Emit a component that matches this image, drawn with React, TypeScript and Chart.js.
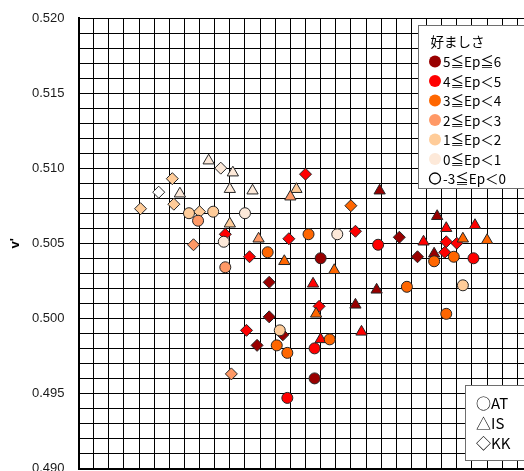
import React, { useEffect, useRef } from 'react';
import { Chart, registerables } from 'chart.js';

Chart.register(...registerables);

// Axis ranges / ticks
const U_MIN = 0.18;
const U_MAX = 0.21;
const V_MIN = 0.49;
const V_MAX = 0.52;
const GRID_STEP = 0.001;
const Y_LABEL_EVERY = 5; // label every 0.005
const Y_TITLE = "v'";

// Preference (Ep) classes, colours and labels
const EP_CLASSES = [5, 4, 3, 2, 1, 0, -1];
const EP_COLORS = ['#990000', '#ff0000', '#ff6600', '#ff9966', '#ffcc99', '#fde9d9', '#ffffff'];
const EP_LABELS = ['5≦Ep≦6', '4≦Ep＜5', '3≦Ep＜4', '2≦Ep＜3', '1≦Ep＜2', '0≦Ep＜1', '-3≦Ep＜0'];
const LEGEND_TITLE = '好ましさ';

// Subjects
const SUBJECTS = ['AT', 'IS', 'KK'];
const SUBJECT_SYMBOLS = ['○', '△', '◇'];
const SUBJECT_STYLES = ['circle', 'triangle', 'rectRot'];

// AT (circles)
const AT_U = [0.1873, 0.1889, 0.1910, 0.1879, 0.1896, 0.1897, 0.1925, 0.1952, 0.1971, 0.1960, 0.1998, 0.2035,
  0.2048, 0.2061, 0.2017, 0.2054, 0.2043, 0.1933, 0.1931, 0.1938, 0.1956, 0.1966, 0.1956, 0.1938];
const AT_V = [0.5070, 0.5071, 0.5070, 0.5065, 0.5051, 0.5034, 0.5044, 0.5056, 0.5056, 0.5040, 0.5049, 0.5038,
  0.5041, 0.5040, 0.5021, 0.5022, 0.5003, 0.4992, 0.4982, 0.4977, 0.4980, 0.4986, 0.4960, 0.4947];
const AT_EP = [1, 1, 0, 2, 0, 2, 3, 3, 0, 5, 4, 3, 3, 4, 3, 1, 3, 1, 3, 3, 4, 3, 5, 4];

// IS (triangles)
const IS_U = [0.1886, 0.1902, 0.1900, 0.1915, 0.1867, 0.1900, 0.1919, 0.1944, 0.1940, 0.1999, 0.2037, 0.2062,
  0.2043, 0.2028, 0.2054, 0.2070, 0.2035, 0.1936, 0.1969, 0.1955, 0.1983, 0.1957, 0.1997, 0.1987, 0.1960];
const IS_V = [0.5105, 0.5097, 0.5086, 0.5085, 0.5083, 0.5063, 0.5053, 0.5086, 0.5081, 0.5085, 0.5068, 0.5062,
  0.5060, 0.5051, 0.5053, 0.5052, 0.5043, 0.5038, 0.5032, 0.5023, 0.5009, 0.5003, 0.5019, 0.4991, 0.4986];
const IS_EP = [0, 0, 0, 0, 0, 1, 2, 1, 2, 5, 5, 4, 4, 4, 3, 3, 5, 3, 3, 4, 5, 3, 5, 4, 4];

// KK (diamonds)
const KK_U = [0.1894, 0.1862, 0.1853, 0.1863, 0.1841, 0.1880, 0.1897, 0.1876, 0.1913, 0.1950, 0.1980, 0.1939,
  0.1983, 0.2012, 0.2043, 0.2050, 0.2042, 0.2024, 0.1926, 0.1959, 0.1926, 0.1911, 0.1935, 0.1918, 0.1901];
const KK_V = [0.5100, 0.5093, 0.5084, 0.5076, 0.5073, 0.5071, 0.5056, 0.5049, 0.5041, 0.5096, 0.5075, 0.5053,
  0.5058, 0.5054, 0.5051, 0.5050, 0.5044, 0.5041, 0.5024, 0.5008, 0.5001, 0.4992, 0.4989, 0.4982, 0.4963];
const KK_EP = [0, 1, -1, 1, 1, 1, 4, 2, 4, 4, 3, 4, 4, 5, 4, 4, 4, 5, 5, 4, 5, 4, 5, 5, 2];

const colorFor = (ep: number) => EP_COLORS[EP_CLASSES.indexOf(ep)];

const makeDataset = (label: string, style: string, radius: number, u: number[], v: number[], ep: number[]) => ({
  label,
  data: u.map((x, i) => ({ x, y: v[i] })),
  pointStyle: style,
  pointRadius: radius,
  pointHoverRadius: radius,
  pointBackgroundColor: ep.map(colorFor),
  pointBorderColor: '#262626',
  pointBorderWidth: 1,
  showLine: false,
});

const LEGEND_FONT = '13.5px "Noto Sans CJK JP", "Noto Sans", sans-serif';
const LEGEND2_FONT = '15px "Noto Sans CJK JP", "Noto Sans", sans-serif';

const legendPlugin = {
  id: 'customLegends',
  afterDraw(chart: any) {
    const ctx = chart.ctx as CanvasRenderingContext2D;
    ctx.save();
    // Ep legend box
    ctx.fillStyle = '#ffffff';
    ctx.strokeStyle = '#6e6e6e';
    ctx.lineWidth = 1;
    ctx.fillRect(418.5, 25.5, 140, 163);
    ctx.strokeRect(418.5, 25.5, 140, 163);
    ctx.font = LEGEND_FONT;
    ctx.fillStyle = '#000';
    ctx.textBaseline = 'middle';
    ctx.textAlign = 'left';
    ctx.fillText(LEGEND_TITLE, 430.5, 41.5);
    EP_LABELS.forEach((lab, i) => {
      const y = 61.5 + i * 19.5;
      ctx.beginPath();
      ctx.arc(435, y, 6, 0, Math.PI * 2);
      ctx.fillStyle = EP_COLORS[i];
      ctx.fill();
      if (EP_CLASSES[i] < 0) {
        ctx.beginPath();
        ctx.arc(435, y, 5.5, 0, Math.PI * 2);
        ctx.strokeStyle = '#000';
        ctx.lineWidth = 1.3;
        ctx.stroke();
      }
      ctx.fillStyle = '#000';
      ctx.fillText(lab, 443, y + 0.5);
    });
    // Subject legend box
    ctx.fillStyle = '#ffffff';
    ctx.strokeStyle = '#6e6e6e';
    ctx.lineWidth = 1;
    ctx.fillRect(465.5, 385.5, 90, 75);
    ctx.strokeRect(465.5, 385.5, 90, 75);
    ctx.fillStyle = '#000';
    ctx.font = LEGEND2_FONT;
    SUBJECTS.forEach((s, i) => {
      ctx.fillText(SUBJECT_SYMBOLS[i] + s, 476, 403.5 + i * 20);
    });
    ctx.restore();
  },
};

export default function App() {
  const ref = useRef<HTMLCanvasElement | null>(null);

  useEffect(() => {
    if (!ref.current) return;
    const chart = new Chart(ref.current, {
      type: 'scatter',
      data: {
        datasets: [
          makeDataset(SUBJECTS[0], SUBJECT_STYLES[0], 5.5, AT_U, AT_V, AT_EP),
          makeDataset(SUBJECTS[1], SUBJECT_STYLES[1], 6.5, IS_U, IS_V, IS_EP),
          makeDataset(SUBJECTS[2], SUBJECT_STYLES[2], 6, KK_U, KK_V, KK_EP),
        ] as any,
      },
      options: {
        responsive: false,
        animation: false,
        events: [],
        layout: { padding: { top: 18, right: 5.5, left: 0, bottom: 0 } },
        plugins: {
          legend: { display: false },
          tooltip: { enabled: false },
        },
        scales: {
          x: {
            type: 'linear',
            min: U_MIN,
            max: U_MAX,
            ticks: { display: false, stepSize: GRID_STEP, autoSkip: false },
            grid: { color: '#000', lineWidth: 1, drawTicks: false },
            border: { color: '#000', width: 2 },
            afterFit: (scale: any) => {
              scale.height = 4;
              scale.paddingLeft = 0; scale.paddingRight = 0; scale.paddingTop = 0; scale.paddingBottom = 0;
            },
          },
          y: {
            type: 'linear',
            min: V_MIN,
            max: V_MAX,
            ticks: {
              stepSize: GRID_STEP,
              autoSkip: false,
              padding: 14,
              color: '#1a1a1a',
              font: { family: '"Liberation Sans", Arial, sans-serif', size: 13 },
              callback: (val: any) => {
                const n = Math.round(Number(val) / GRID_STEP);
                return n % Y_LABEL_EVERY === 0 ? Number(val).toFixed(3) : '';
              },
            },
            title: {
              display: true,
              text: Y_TITLE,
              color: '#000',
              font: { family: '"Liberation Sans", Arial, sans-serif', size: 13, weight: 'bold' },
              padding: { top: 8, bottom: 0 },
            },
            grid: { color: '#000', lineWidth: 1, drawTicks: false },
            border: { color: '#000', width: 2 },
            afterFit: (scale: any) => {
              scale.width = 78.5;
              scale.paddingLeft = 0; scale.paddingRight = 0; scale.paddingTop = 0; scale.paddingBottom = 0;
            },
          },
        },
      } as any,
      plugins: [legendPlugin],
    });
    return () => chart.destroy();
  }, []);

  return (
    <div style={{ position: 'fixed', left: 0, top: 0, width: 524, height: 471, overflow: 'hidden', background: '#fff' }}>
      <canvas ref={ref} width={540} height={476} style={{ display: 'block', width: 540, height: 476 }} />
    </div>
  );
}
